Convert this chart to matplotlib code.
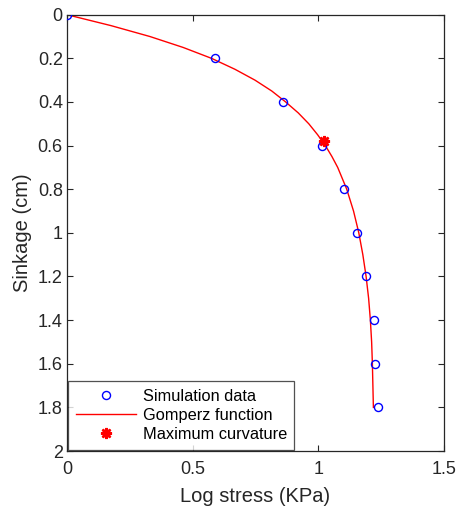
import matplotlib
matplotlib.use("Agg")
import matplotlib.pyplot as plt
from matplotlib.ticker import FuncFormatter

# Simulation data: log stress (KPa) vs sinkage (cm)
sim_stress = [0.0, 0.59, 0.861, 1.016, 1.104, 1.154, 1.191, 1.220, 1.226, 1.239]
sim_sinkage = [0.0, 0.2, 0.4, 0.6, 0.8, 1.0, 1.2, 1.4, 1.6, 1.8]

# Fitted Gompertz curve samples
fit_sinkage = [0.0, 0.02, 0.05, 0.1, 0.15, 0.2, 0.25, 0.3, 0.35, 0.4, 0.45, 0.5,
               0.55, 0.6, 0.65, 0.7, 0.8, 0.9, 1.0, 1.1, 1.2, 1.3, 1.4, 1.5,
               1.6, 1.7, 1.8]
fit_stress = [0.0, 0.070, 0.175, 0.330, 0.462, 0.575, 0.668, 0.748, 0.815, 0.870,
              0.920, 0.962, 0.997, 1.028, 1.054, 1.077, 1.113, 1.140, 1.161,
              1.177, 1.190, 1.200, 1.207, 1.212, 1.215, 1.217, 1.219]

# Point of maximum curvature
maxcurv_stress = [1.021]
maxcurv_sinkage = [0.578]

x_ticks = [0, 0.5, 1, 1.5]
y_ticks = [0, 0.2, 0.4, 0.6, 0.8, 1.0, 1.2, 1.4, 1.6, 1.8, 2.0]

plt.rcParams['font.family'] = ['Liberation Sans', 'DejaVu Sans']
text_color = '#262626'

fig = plt.figure(figsize=(4.57, 5.09), dpi=100)
ax = fig.add_axes([0.1466, 0.1139, 0.8250, 0.8572])

ax.plot(sim_stress, sim_sinkage, linestyle='none', marker='o', markersize=5.8,
        markerfacecolor='none', markeredgecolor='#0000ff', markeredgewidth=1.0,
        label='Simulation data', zorder=3)
ax.plot(fit_stress, fit_sinkage, color='#ff0000', linewidth=1.0,
        label='Gomperz function', zorder=2)
ax.plot(maxcurv_stress, maxcurv_sinkage, linestyle='none', marker=(8, 2, 0),
        markersize=8, markeredgecolor='#ff0000', markeredgewidth=1.8,
        label='Maximum curvature', zorder=4)

ax.set_xlim(0, 1.5)
ax.set_ylim(2, 0)
ax.set_xticks(x_ticks)
ax.set_yticks(y_ticks)

fmt = FuncFormatter(lambda v, p: ('%g' % round(v, 3)))
ax.xaxis.set_major_formatter(fmt)
ax.yaxis.set_major_formatter(fmt)

ax.tick_params(direction='in', length=4, width=0.8, colors=text_color,
               labelsize=13, top=True, right=True)
ax.tick_params(axis='x', pad=7)
ax.tick_params(axis='y', pad=3)
for s in ax.spines.values():
    s.set_color(text_color)
    s.set_linewidth(0.9)

ax.set_xlabel('Log stress (KPa)', fontsize=14.5, color=text_color, labelpad=7)
ax.set_ylabel('Sinkage (cm)', fontsize=14.5, color=text_color, labelpad=4)

leg = ax.legend(loc='lower left', fontsize=11.8, frameon=True, fancybox=False,
                edgecolor='#262626', borderaxespad=0.08, handlelength=3.7,
                handletextpad=0.37, labelspacing=0.26, borderpad=0.46)
leg.get_frame().set_linewidth(0.9)

fig.savefig('out.png', dpi=100)
